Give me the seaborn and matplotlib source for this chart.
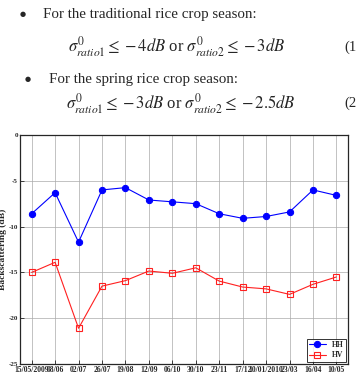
import numpy as np
import pandas as pd
import matplotlib
matplotlib.use("Agg")
import matplotlib.pyplot as plt
import seaborn as sns

# acquisition dates (x axis labels)
dates = ["15/05/2009", "08/06", "02/07", "26/07", "19/08", "12/09", "06/10",
         "30/10", "23/11", "17/12", "10/01/2010", "23/03", "16/04", "10/05"]
hh = [-8.6, -6.3, -11.7, -6.0, -5.75, -7.1, -7.3,
      -7.5, -8.6, -9.1, -8.9, -8.4, -6.0, -6.6]
hv = [-15.0, -13.9, -21.1, -16.5, -15.9, -14.85, -15.1,
      -14.5, -15.95, -16.6, -16.8, -17.4, -16.3, -15.5]
yticks = [0, -5, -10, -15, -20, -25]

sns.set_style("ticks")
plt.rcParams["font.family"] = ["Liberation Serif", "DejaVu Serif"]
plt.rcParams["mathtext.fontset"] = "stix"

fig = plt.figure(figsize=(3.56, 3.78), dpi=100)

# text block above the chart
fig.text(0.056, 0.962, "\u25cf", fontsize=5, va="center", family="DejaVu Sans")
fig.text(0.12, 0.962, "For the traditional rice crop season:", fontsize=10.8, va="center")
fig.text(0.19, 0.876, r"$\sigma^{0}_{ratio1}\leq -4dB$" + " or " + r"$\sigma^{0}_{ratio2}\leq -3dB$",
         fontsize=12, va="center")
fig.text(0.968, 0.876, "(1", fontsize=10.5, va="center")
fig.text(0.07, 0.79, "\u25cf", fontsize=5, va="center", family="DejaVu Sans")
fig.text(0.137, 0.79, "For the spring rice crop season:", fontsize=10.8, va="center")
fig.text(0.185, 0.727, r"$\sigma^{0}_{ratio1}\leq -3dB$" + " or " + r"$\sigma^{0}_{ratio2}\leq -2.5dB$",
         fontsize=12, va="center")
fig.text(0.968, 0.727, "(2", fontsize=10.5, va="center")

ax = fig.add_axes([0.056, 0.037, 0.922, 0.606])

df = pd.DataFrame({"idx": list(range(len(dates))) * 2,
                   "value": hh + hv,
                   "pol": ["HH"] * len(hh) + ["HV"] * len(hv)})

sns.lineplot(data=df[df.pol == "HH"], x="idx", y="value", ax=ax, color="#0000ff",
             marker="o", markersize=4.5, markeredgecolor="#0000ff", lw=0.8, label="HH")
sns.lineplot(data=df[df.pol == "HV"], x="idx", y="value", ax=ax, color="#ff2020",
             marker="s", markersize=4, markerfacecolor="none", markeredgecolor="#ff2020",
             markeredgewidth=0.8, lw=0.8, label="HV")

ax.set_xlim(-0.5, len(dates) - 0.5)
ax.set_ylim(-25, 0)
ax.set_xticks(range(len(dates)))
ax.set_xticklabels(dates, fontsize=5.5, fontweight="bold")
ax.set_yticks(yticks)
ax.set_yticklabels([str(t) for t in yticks], fontsize=5, fontweight="bold")
ax.tick_params(direction="in", length=3, width=0.6, pad=1.5)
ax.grid(True, color="#aaaaaa", lw=0.5)
ax.set_xlabel("")
ax.set_ylabel("Backscattering (dB)", fontsize=6.8, fontweight="bold")
ax.yaxis.set_label_coords(-0.038, 0.5)
for s in ax.spines.values():
    s.set_linewidth(0.9)

leg = ax.legend(loc="lower right", prop={"weight": "bold", "size": 5.5},
                frameon=True, fancybox=False, edgecolor="black", handlelength=2.2,
                borderpad=0.3, labelspacing=0.3, borderaxespad=0.3)
leg.get_frame().set_linewidth(0.7)

fig.savefig("out.png", dpi=100)
